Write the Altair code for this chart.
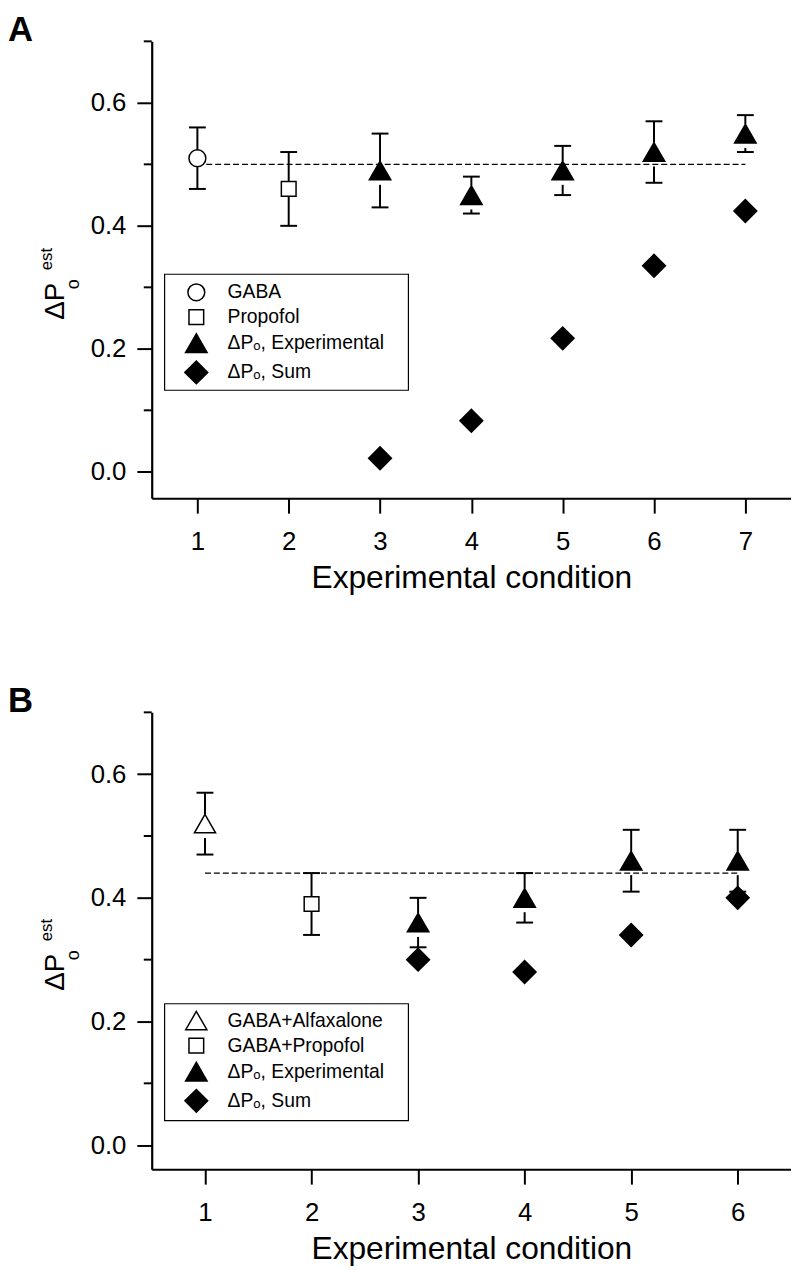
import altair as alt
import pandas as pd

FONT = "Liberation Sans"

# ---------------- shared text ----------------
panel_letters = ["A", "B"]
x_title = "Experimental condition"
y_title_main = "ΔP"
y_title_sub = "o"
y_title_sup = "est"
major_ticks = [0.0, 0.2, 0.4, 0.6]
minor_ticks = [0.1, 0.3, 0.5, 0.7]

# ---------------- panel A ----------------
a_conditions = [1, 2, 3, 4, 5, 6, 7]
a_mean = [0.51, 0.46, 0.49, 0.45, 0.49, 0.52, 0.55]
a_low = [0.46, 0.40, 0.43, 0.42, 0.45, 0.47, 0.52]
a_high = [0.56, 0.52, 0.55, 0.48, 0.53, 0.57, 0.58]
a_series = ["GABA", "Propofol"] + ["ΔPₒ, Experimental"] * 5
a_sum_conditions = [3, 4, 5, 6, 7]
a_sum = [0.022, 0.083, 0.217, 0.335, 0.424]
a_legend = ["GABA", "Propofol", "ΔPₒ, Experimental", "ΔPₒ, Sum"]
a_shapes = ["circle", "square", "triangle-up", "diamond"]
a_fills = ["white", "white", "black", "black"]
a_sizes = [290, 220, 470, 529]
a_reference = 0.50
a_reference_span = [1, 7]

# ---------------- panel B ----------------
b_conditions = [1, 2, 3, 4, 5, 6]
b_mean = [0.52, 0.39, 0.36, 0.40, 0.46, 0.46]
b_low = [0.47, 0.34, 0.32, 0.36, 0.41, 0.41]
b_high = [0.57, 0.44, 0.40, 0.44, 0.51, 0.51]
b_series = ["GABA+Alfaxalone", "GABA+Propofol"] + ["ΔPₒ, Experimental"] * 4
b_sum_conditions = [3, 4, 5, 6]
b_sum = [0.30, 0.28, 0.34, 0.40]
b_legend = ["GABA+Alfaxalone", "GABA+Propofol", "ΔPₒ, Experimental", "ΔPₒ, Sum"]
b_shapes = ["triangle-up", "square", "triangle-up", "diamond"]
b_fills = ["white", "white", "black", "black"]
b_sizes = [455, 220, 470, 529]
b_reference = 0.44
b_reference_span = [1, 6]

W, H = 645, 461


def text_layer(txt, x, y, size, angle=0, weight="normal", align="left", baseline="alphabetic"):
    kw = dict(align=align, baseline=baseline, fontSize=size, fontWeight=weight,
              font=FONT, color="black")
    if angle:
        kw["angle"] = angle
    return alt.Chart(pd.DataFrame({"t": [txt]})).mark_text(**kw).encode(
        text="t:N", x=alt.value(x), y=alt.value(y))


def build_panel(letter, conds, mean, low, high, series, sum_conds, sums,
                legend_labels, shapes, fills, sizes, ref_value, ref_span,
                y_min, legend_xy, box):
    main = pd.DataFrame(dict(condition=conds, value=mean, low=low, high=high, series=series))
    sum_df = pd.DataFrame(dict(condition=sum_conds, value=sums,
                               series=[legend_labels[3]] * len(sum_conds)))
    pts = pd.concat([main[["condition", "value", "series"]], sum_df], ignore_index=True)
    tri = [l for l, s in zip(legend_labels, shapes) if s == "triangle-up"]
    gaps = main[main["series"].isin(tri)]
    ref = pd.DataFrame({"x0": [ref_span[0]], "x1": [ref_span[1]], "y": [ref_value]})

    xmax = max(conds)
    xscale = alt.Scale(domain=[0.5, xmax + 0.5], nice=False, zero=False)
    yscale = alt.Scale(domain=[y_min, 0.70], nice=False, zero=False)
    xaxis = alt.Axis(values=list(range(1, xmax + 1)), format="d", title=x_title,
                     labelPadding=16, titlePadding=8)
    yaxis = alt.Axis(values=major_ticks, format=".1f", title=None, labelPadding=11)

    def X(f):
        return alt.X(f, scale=xscale, axis=xaxis)

    def Y(f):
        return alt.Y(f, scale=yscale, axis=yaxis)

    errors = alt.Chart(main).mark_rule(strokeWidth=2, color="black").encode(
        x=X("condition:Q"), y=Y("low:Q"), y2="high:Q")
    caps = alt.Chart(main).transform_fold(["low", "high"], as_=["end", "cap"]).mark_tick(
        orient="horizontal", size=17, thickness=2, color="black", opacity=1).encode(
        x=X("condition:Q"), y=Y("cap:Q"))
    gap = alt.Chart(gaps).mark_point(shape="square", filled=True, fill="white", size=576,
                                     yOffset=2.5, opacity=1, strokeWidth=0).encode(
        x=X("condition:Q"), y=Y("value:Q"))
    refline = alt.Chart(ref).mark_rule(strokeDash=[6, 3], strokeWidth=1.3, color="black").encode(
        x=X("x0:Q"), x2="x1:Q", y=Y("y:Q"))
    minor = alt.Chart(pd.DataFrame({"v": minor_ticks})).mark_tick(
        orient="horizontal", size=8, thickness=2, color="black", opacity=1).encode(
        x=alt.value(-4), y=Y("v:Q"))

    legend = alt.Legend(title=None, orient="none", legendX=legend_xy[0], legendY=legend_xy[1],
                        padding=0, rowPadding=2, labelOffset=19, labelFontSize=19.5,
                        labelFont=FONT, labelColor="black",
                        symbolStrokeWidth=1.5, labelLimit=400)
    points = alt.Chart(pts).mark_point(filled=True, opacity=1, strokeWidth=1.5).encode(
        x=X("condition:Q"),
        y=Y("value:Q"),
        shape=alt.Shape("series:N", scale=alt.Scale(domain=legend_labels, range=shapes), legend=legend),
        fill=alt.Fill("series:N", scale=alt.Scale(domain=legend_labels, range=fills), legend=legend),
        stroke=alt.Stroke("series:N", scale=alt.Scale(domain=legend_labels, range=["black"] * 4),
                          legend=legend),
        size=alt.Size("series:N", scale=alt.Scale(type="ordinal", domain=legend_labels, range=sizes),
                      legend=legend),
    )

    frame = alt.Chart(pd.DataFrame({"t": [0]})).mark_rect(
        fillOpacity=0, stroke="black", strokeWidth=1.2).encode(
        x=alt.value(box[0]), x2=alt.value(box[1]), y=alt.value(box[2]), y2=alt.value(box[3]))

    texts = [
        text_layer(letter, -145, -28, 35, weight="bold", baseline="top"),
        text_layer(y_title_main, -88.5, 281, 28, angle=270),
        text_layer(y_title_sub, -73, 250, 18, angle=270),
        text_layer(y_title_sup, -101, 231, 17, angle=270),
    ]

    return alt.layer(errors, caps, gap, refline, minor, points, frame, *texts).properties(
        width=W, height=H)


panel_a = build_panel(panel_letters[0], a_conditions, a_mean, a_low, a_high, a_series,
                      a_sum_conditions, a_sum, a_legend, a_shapes, a_fills, a_sizes,
                      a_reference, a_reference_span, -0.043, (32.5, 243.5),
                      (13, 259, 235, 352))
panel_b = build_panel(panel_letters[1], b_conditions, b_mean, b_low, b_high, b_series,
                      b_sum_conditions, b_sum, b_legend, b_shapes, b_fills, b_sizes,
                      b_reference, b_reference_span, -0.039, (32.5, 299.5),
                      (13, 259, 294, 412))

chart = alt.vconcat(panel_a, panel_b, spacing=92).resolve_scale(
    shape="independent", fill="independent", stroke="independent", size="independent"
).resolve_legend(
    shape="independent", fill="independent", stroke="independent", size="independent"
).properties(
    padding=0, background="white"
).configure_view(strokeWidth=0).configure_axis(
    grid=False, domainColor="black", domainWidth=2.2, tickColor="black", tickWidth=2,
    tickSize=15, labelFont=FONT, labelFontSize=26, labelColor="black",
    titleFont=FONT, titleFontSize=32, titleFontWeight="normal", titleColor="black",
    labelFlush=False, labelOverlap=False
)

chart.save("out.html", embed_options={"renderer": "svg", "actions": False})
